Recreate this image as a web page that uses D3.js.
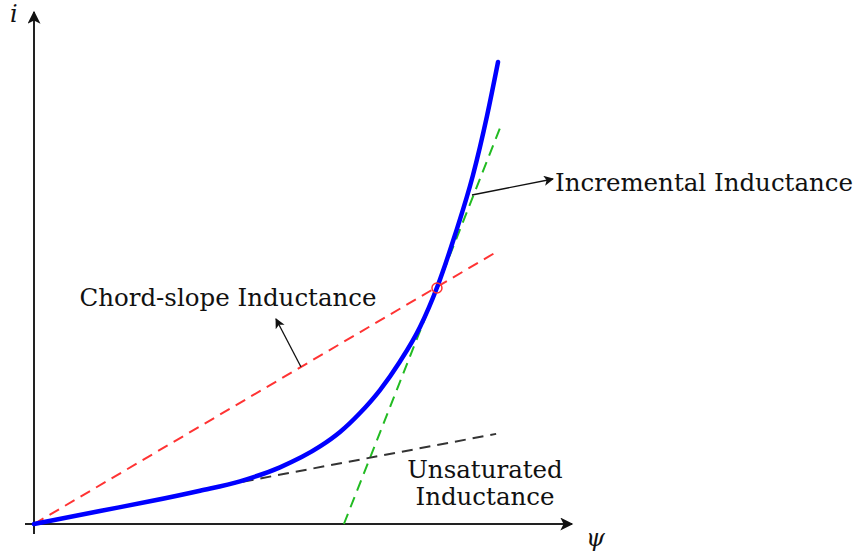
<!DOCTYPE html>
<html>
<head>
<meta charset="utf-8">
<script src="https://cdn.jsdelivr.net/npm/d3@7"></script>
<style>
  body { margin: 0; background: #fff; }
  text { font-family: "DejaVu Serif", "Liberation Serif", serif; fill: #111; }
</style>
</head>
<body>
<svg id="chart" width="857" height="553"></svg>
<script>
// magnetization curve, flux linkage psi vs current i (normalised units)
var curvePsi = [0, 0.1227, 0.2156, 0.3086, 0.3829, 0.4572, 0.5316, 0.5688, 0.6059, 0.6431, 0.6803, 0.7175, 0.7491, 0.7825, 0.8160, 0.8420, 0.8625];
var curveI   = [0, 0.0254, 0.0443, 0.0650, 0.0834, 0.1107, 0.1514, 0.1797, 0.2168, 0.2617, 0.3174, 0.3848, 0.4619, 0.5645, 0.6816, 0.7969, 0.9023];

// operating point
var opPoint = [0.749, 0.461];

// straight lines [psi, i] endpoints
var chordLine   = [[0, 0], [0.859, 0.531]];
var tangentLine = [[0.576, 0], [0.866, 0.773]];
var unsatLine   = [[0.355, 0.076], [0.859, 0.176]];

var labels = {
  chord: "Chord-slope Inductance",
  incr: "Incremental Inductance",
  unsat: ["Unsaturated", "Inductance"]
};

var svg = d3.select("#chart");
var x = d3.scaleLinear().domain([0, 1]).range([34, 572]);
var y = d3.scaleLinear().domain([0, 1]).range([524, 12]);

var defs = svg.append("defs");
function arrowMarker(id, w, h) {
  defs.append("marker")
    .attr("id", id)
    .attr("viewBox", "0 0 10 10")
    .attr("refX", 9).attr("refY", 5)
    .attr("markerUnits", "userSpaceOnUse")
    .attr("markerWidth", w).attr("markerHeight", h)
    .attr("orient", "auto")
    .append("path")
    .attr("d", "M0,0 L10,5 L0,10 L2.5,5 Z")
    .attr("fill", "#111");
}
arrowMarker("axisArrow", 17, 13);
arrowMarker("smallArrow", 14, 10);

var line = d3.line().x(function(d) { return x(d[0]); }).y(function(d) { return y(d[1]); });

// axes
svg.append("line")
  .attr("x1", x(0)).attr("y1", y(0) + 10).attr("x2", x(0)).attr("y2", y(1))
  .attr("stroke", "#222").attr("stroke-width", 2)
  .attr("marker-end", "url(#axisArrow)");
svg.append("line")
  .attr("x1", x(0) - 9).attr("y1", y(0)).attr("x2", x(1)).attr("y2", y(0))
  .attr("stroke", "#222").attr("stroke-width", 2)
  .attr("marker-end", "url(#axisArrow)");

svg.append("text").attr("x", 10).attr("y", 22)
  .style("font-style", "italic").style("font-size", "24px").text("i");
svg.append("text").attr("x", 586).attr("y", 546)
  .style("font-style", "italic").style("font-size", "24px").text("ψ");

// dashed lines
svg.append("path").attr("d", line(chordLine))
  .attr("fill", "none").attr("stroke", "#ff3333").attr("stroke-width", 2)
  .attr("stroke-dasharray", "11,7");
svg.append("path").attr("d", line(tangentLine))
  .attr("fill", "none").attr("stroke", "#22bb22").attr("stroke-width", 2)
  .attr("stroke-dasharray", "11,7");
svg.append("path").attr("d", line(unsatLine))
  .attr("fill", "none").attr("stroke", "#333").attr("stroke-width", 2)
  .attr("stroke-dasharray", "11,7");

// the curve
var pts = curvePsi.map(function(p, k) { return [p, curveI[k]]; });
var smooth = d3.line().curve(d3.curveMonotoneX)
  .x(function(d) { return x(d[0]); }).y(function(d) { return y(d[1]); });
svg.append("path")
  .attr("d", smooth(pts))
  .attr("fill", "none").attr("stroke", "#0000ff").attr("stroke-width", 4.5)
  .attr("stroke-linecap", "round");

svg.append("circle")
  .attr("cx", x(opPoint[0])).attr("cy", y(opPoint[1])).attr("r", 5)
  .attr("fill", "none").attr("stroke", "#ff3333").attr("stroke-width", 1.5);

// annotation arrows
svg.append("line")
  .attr("x1", 472).attr("y1", 195).attr("x2", 553).attr("y2", 179)
  .attr("stroke", "#111").attr("stroke-width", 1.3)
  .attr("marker-end", "url(#smallArrow)");
svg.append("line")
  .attr("x1", 301).attr("y1", 367).attr("x2", 276).attr("y2", 319)
  .attr("stroke", "#111").attr("stroke-width", 1.3)
  .attr("marker-end", "url(#smallArrow)");

svg.append("text").attr("x", 555).attr("y", 191)
  .style("font-size", "24.5px").text(labels.incr);
svg.append("text").attr("x", 228).attr("y", 306).attr("text-anchor", "middle")
  .style("font-size", "24.5px").text(labels.chord);
svg.append("text").attr("x", 485).attr("y", 478).attr("text-anchor", "middle")
  .style("font-size", "24.5px").text(labels.unsat[0]);
svg.append("text").attr("x", 485).attr("y", 505).attr("text-anchor", "middle")
  .style("font-size", "24.5px").text(labels.unsat[1]);
</script>
</body>
</html>
